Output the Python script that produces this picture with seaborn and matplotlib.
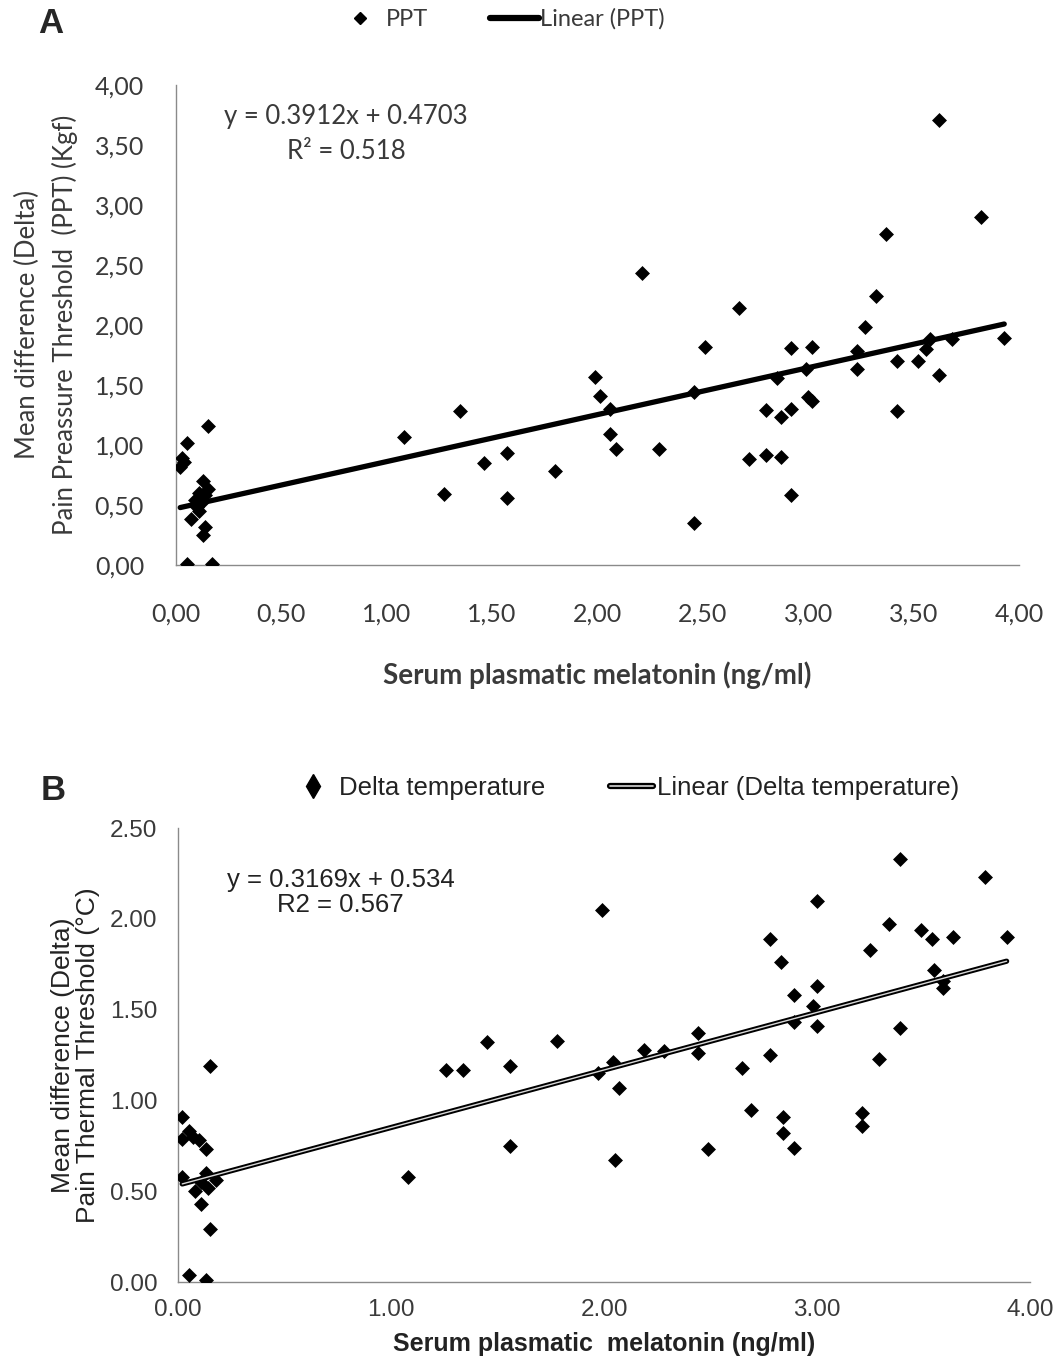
import numpy as np
import pandas as pd
import matplotlib
matplotlib.use("Agg")
import matplotlib.pyplot as plt
import matplotlib.patheffects as pe
from matplotlib.lines import Line2D
from matplotlib.ticker import FuncFormatter
import seaborn as sns

############################ DATA : PANEL A (PPT) ############################
ppt_x = [0.15, 0.05, 0.03, 0.02, 0.04, 0.13, 0.11, 0.14, 0.09, 0.12, 0.15, 0.10,
         0.11, 0.07, 0.14, 0.13, 0.05, 0.17,
         1.08, 1.27, 1.35, 1.46, 1.57, 1.57, 1.80, 1.99, 2.01, 2.06, 2.06, 2.09,
         2.21, 2.29, 2.46, 2.46, 2.51, 2.67, 2.72, 2.80, 2.80, 2.85, 2.87, 2.87,
         2.92, 2.92, 2.92, 2.99, 3.00, 3.02, 3.02, 3.23, 3.23, 3.27, 3.32, 3.37,
         3.42, 3.42, 3.52, 3.56, 3.58, 3.62, 3.62, 3.68, 3.82, 3.93]
ppt_y = [1.16, 1.02, 0.89, 0.82, 0.86, 0.70, 0.60, 0.58, 0.54, 0.52, 0.63, 0.48,
         0.45, 0.38, 0.32, 0.25, 0.01, 0.01,
         1.07, 0.59, 1.28, 0.85, 0.93, 0.56, 0.78, 1.57, 1.41, 1.30, 1.09, 0.97,
         2.43, 0.97, 1.44, 0.35, 1.82, 2.14, 0.88, 1.29, 0.92, 1.56, 1.23, 0.90,
         1.81, 1.30, 0.58, 1.63, 1.40, 1.37, 1.82, 1.78, 1.63, 1.98, 2.24, 2.76,
         1.70, 1.28, 1.70, 1.80, 1.88, 1.58, 3.71, 1.88, 2.90, 1.89]
ppt_slope, ppt_intercept = 0.3912, 0.4703
ppt_r2 = "0.518"

######################## DATA : PANEL B (TEMPERATURE) ########################
temp_x = [0.15, 0.02, 0.05, 0.02, 0.07, 0.10, 0.13, 0.02, 0.13, 0.11, 0.18, 0.14,
          0.08, 0.11, 0.15, 0.05, 0.13,
          1.08, 1.26, 1.34, 1.45, 1.56, 1.56, 1.78, 1.97, 1.99, 2.04, 2.05, 2.07,
          2.19, 2.28, 2.44, 2.44, 2.49, 2.65, 2.69, 2.78, 2.78, 2.83, 2.84, 2.84,
          2.89, 2.89, 2.89, 2.98, 3.00, 3.00, 3.00, 3.21, 3.21, 3.25, 3.29, 3.34,
          3.39, 3.39, 3.49, 3.54, 3.55, 3.59, 3.59, 3.64, 3.79, 3.89]
temp_y = [1.19, 0.91, 0.83, 0.79, 0.80, 0.78, 0.73, 0.58, 0.60, 0.55, 0.56, 0.52,
          0.50, 0.43, 0.29, 0.04, 0.01,
          0.58, 1.17, 1.17, 1.32, 1.19, 0.75, 1.33, 1.15, 2.05, 1.21, 0.67, 1.07,
          1.28, 1.27, 1.37, 1.26, 0.73, 1.18, 0.95, 1.89, 1.25, 1.76, 0.91, 0.82,
          1.58, 1.43, 0.74, 1.52, 2.10, 1.63, 1.41, 0.93, 0.86, 1.83, 1.23, 1.97,
          2.33, 1.40, 1.94, 1.89, 1.72, 1.66, 1.62, 1.90, 2.23, 1.90]
temp_slope, temp_intercept = 0.3169, 0.534
temp_r2 = "0.567"

x_label = "Serum plasmatic melatonin (ng/ml)"

################################# STYLE #####################################
sns.set_theme(style="white")
plt.rcParams['font.family'] = ['Lato', 'DejaVu Sans']
AXIS_GREY = "#8a8a8a"
TEXT_GREY = "#3a3a3a"

fig = plt.figure(figsize=(10.62, 13.61), dpi=100)
axA = fig.add_axes([0.1657, 0.5849, 0.7938, 0.3527])
axB = fig.add_axes([0.1676, 0.0580, 0.8023, 0.3336])


def style_axes(ax, font, size):
    for side in ["top", "right"]:
        ax.spines[side].set_visible(False)
    for side in ["left", "bottom"]:
        ax.spines[side].set_color(AXIS_GREY)
        ax.spines[side].set_linewidth(1.0)
    ax.tick_params(axis="both", colors=AXIS_GREY, labelcolor=TEXT_GREY,
                   length=5, width=1, labelsize=size)
    for lab in ax.get_xticklabels() + ax.get_yticklabels():
        lab.set_fontfamily(font)


def trend(x, slope, intercept):
    xs = np.array([min(x), max(x)])
    return pd.DataFrame({"x": xs, "y": slope * xs + intercept})


############################### PANEL A ######################################
dfA = pd.DataFrame({"x": ppt_x, "y": ppt_y})
sns.scatterplot(data=dfA, x="x", y="y", ax=axA, marker="D", color="black",
                s=58, linewidth=0, zorder=3)
sns.lineplot(data=trend(ppt_x, ppt_slope, ppt_intercept), x="x", y="y", ax=axA,
             color="black", linewidth=3.8, zorder=4)
axA.set_xlim(0, 4)
axA.set_ylim(0, 4)
axA.set_xticks(np.arange(0, 4.01, 0.5))
axA.set_yticks(np.arange(0, 4.01, 0.5))
comma = FuncFormatter(lambda v, p: f"{v:.2f}".replace(".", ","))
axA.xaxis.set_major_formatter(comma)
axA.yaxis.set_major_formatter(comma)
style_axes(axA, "Lato", 18)
axA.tick_params(axis="x", pad=22)
axA.tick_params(axis="y", pad=18)
axA.set_xlabel(x_label, fontsize=20, fontweight="bold", color=TEXT_GREY,
               family="Lato", labelpad=26)
axA.set_ylabel("Mean difference (Delta)\nPain Preassure Threshold  (PPT) (Kgf)",
               fontsize=18.5, color=TEXT_GREY, family="Lato", labelpad=12,
               linespacing=1.55)
axA.text(0.2017, 0.897, f"y = {ppt_slope}x + {ppt_intercept}\nR² = {ppt_r2}",
         transform=axA.transAxes, ha="center", va="center", fontsize=18.5,
         color=TEXT_GREY, family="Lato", linespacing=1.5)
fig.text(0.036, 0.983, "A", fontsize=25, fontweight="bold", family="Liberation Sans",
         va="center")

hA = [Line2D([], [], marker="D", color="black", linestyle="none", markersize=6),
      Line2D([], [], color="black", linewidth=4.5)]
fig.legend(hA, ["PPT", "Linear (PPT)"], loc="center", bbox_to_anchor=(0.471, 0.986),
           ncol=2, frameon=False, handlelength=2.1, handletextpad=0.05,
           columnspacing=2.6, prop={"family": "Lato", "size": 17}, labelcolor=TEXT_GREY)

############################### PANEL B ######################################
dfB = pd.DataFrame({"x": temp_x, "y": temp_y})
sns.scatterplot(data=dfB, x="x", y="y", ax=axB, marker="D", color="black",
                s=58, linewidth=0, zorder=3)
sns.lineplot(data=trend(temp_x, temp_slope, temp_intercept), x="x", y="y", ax=axB,
             color="#d8d8d8", linewidth=1.0, zorder=4,
             path_effects=[pe.Stroke(linewidth=3.8, foreground="black"), pe.Normal()])
axB.set_xlim(0, 4)
axB.set_ylim(0, 2.5)
axB.set_xticks(np.arange(0, 4.01, 1.0))
axB.set_yticks(np.arange(0, 2.51, 0.5))
axB.xaxis.set_major_formatter(FuncFormatter(lambda v, p: f"{v:.2f}"))
axB.yaxis.set_major_formatter(FuncFormatter(lambda v, p: f"{v:.2f}"))
style_axes(axB, "Liberation Sans", 17.5)
axB.tick_params(axis="x", direction="in", pad=12)
axB.tick_params(axis="y", pad=10)
axB.set_xlabel("Serum plasmatic  melatonin (ng/ml)", fontsize=18, fontweight="bold",
               color="#222222", family="Liberation Sans", labelpad=8)
axB.set_ylabel("Mean difference (Delta)\nPain Thermal Threshold (°C)", fontsize=19,
               color="#222222", family="Liberation Sans", labelpad=7, linespacing=1.05)
axB.text(0.191, 0.857, f"y = {temp_slope}x + {temp_intercept}\nR2 = {temp_r2}",
         transform=axB.transAxes, ha="center", va="center", fontsize=18.5,
         color="#222222", family="Liberation Sans", linespacing=1.05)
fig.text(0.038, 0.419, "B", fontsize=25, fontweight="bold", family="Liberation Sans",
         va="center")

hB = [Line2D([], [], marker="d", color="black", linestyle="none", markersize=12),
      Line2D([], [], color="#d8d8d8", linewidth=1.2,
             path_effects=[pe.Stroke(linewidth=4.5, foreground="black"), pe.Normal()])]
fig.legend(hB, ["Delta temperature", "Linear (Delta temperature)"], loc="center",
           bbox_to_anchor=(0.589, 0.421), ncol=2, frameon=False, handlelength=1.7,
           handletextpad=0.15, columnspacing=2.5,
           prop={"family": "Liberation Sans", "size": 18.5}, labelcolor="#222222")

fig.savefig("out.png", dpi=100, facecolor="white")
